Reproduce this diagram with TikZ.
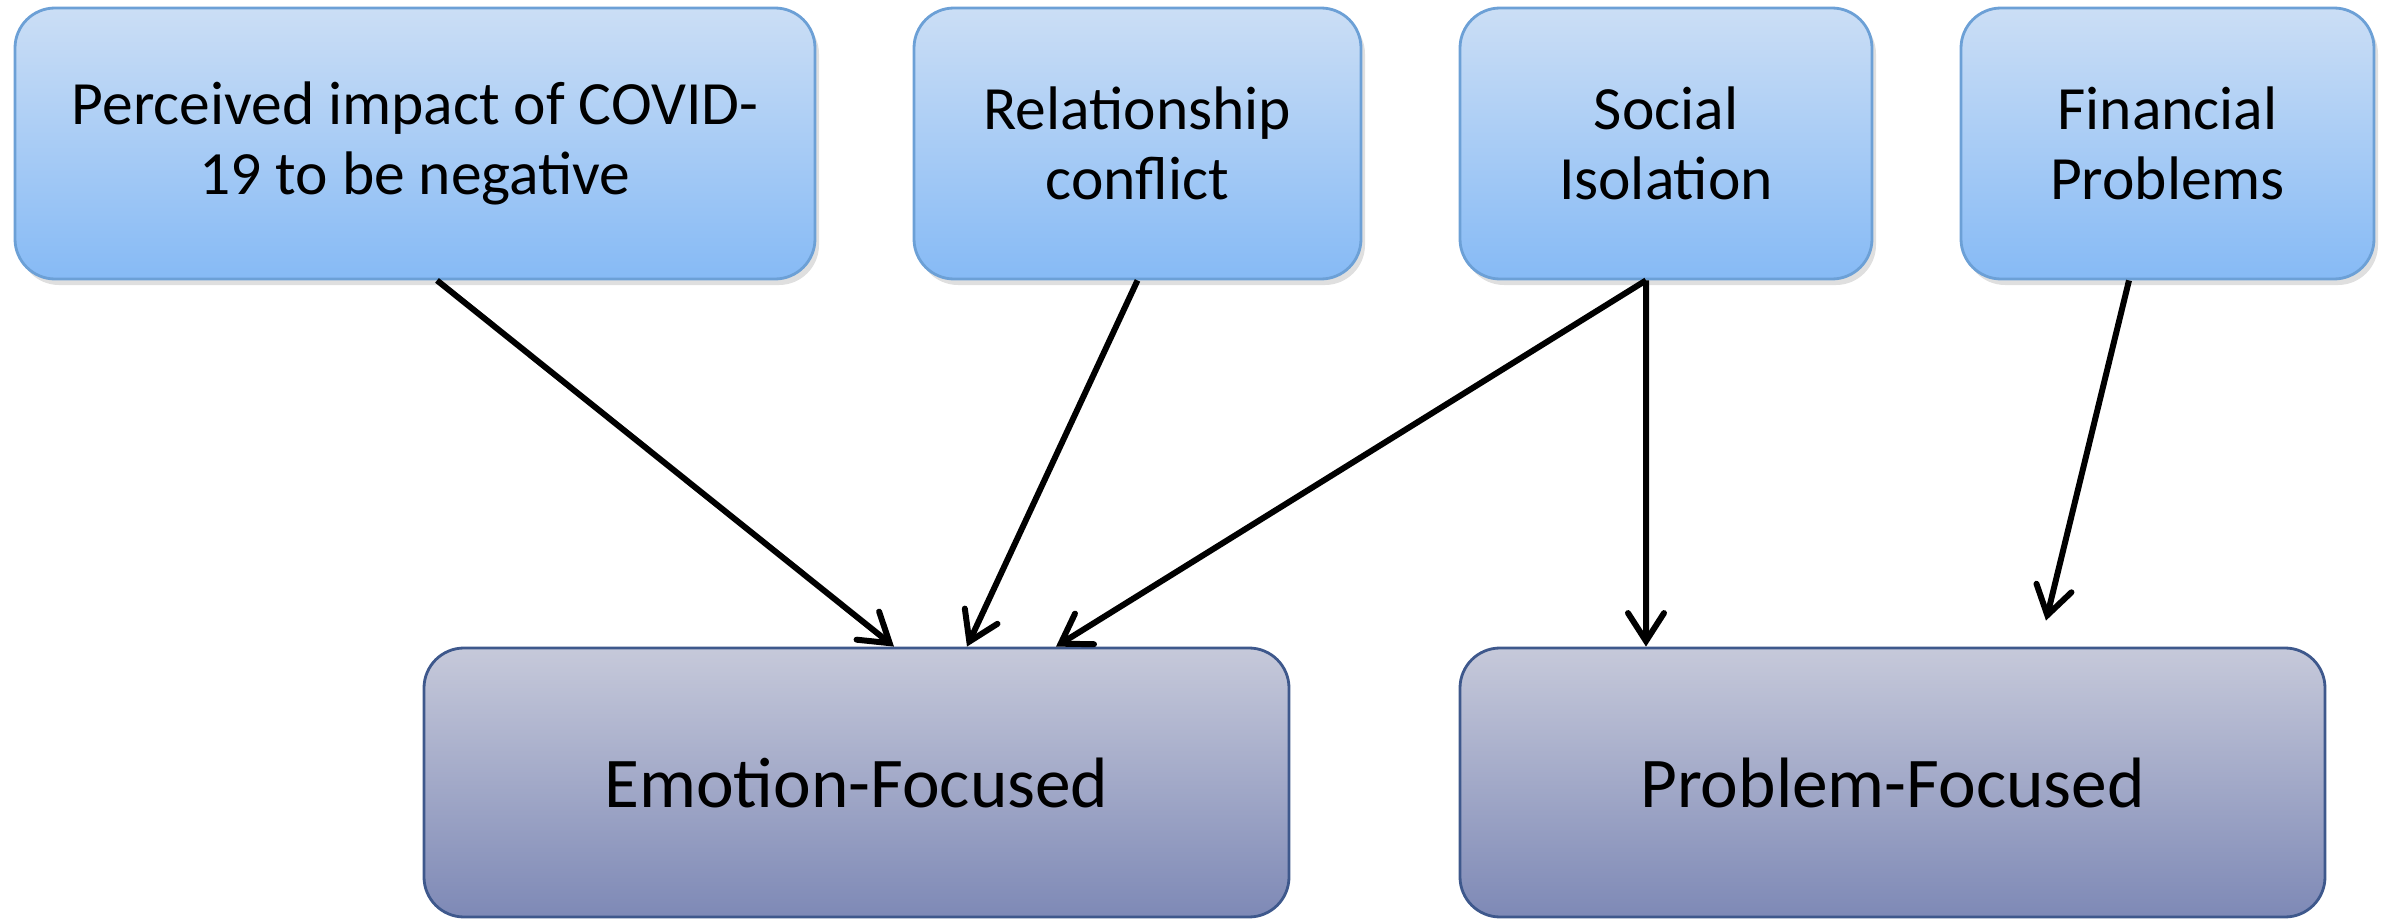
\documentclass[tikz,border=0pt]{standalone}
\usepackage{fontspec}
\setmainfont{Carlito}
\usepackage{tikz}
\usetikzlibrary{arrows.meta,positioning,shadows}
\definecolor{stresstop}{RGB}{203,222,245}
\definecolor{stressbot}{RGB}{134,186,245}
\definecolor{stressline}{RGB}{108,160,214}
\definecolor{copetop}{RGB}{198,201,218}
\definecolor{copebot}{RGB}{126,137,182}
\definecolor{copeline}{RGB}{62,88,140}

\begin{document}
\begin{tikzpicture}[
  stressor/.style={draw=stressline, line width=0.8pt, rounded corners=0.4cm, top color=stresstop, bottom color=stressbot,
    drop shadow={opacity=0.25, shadow xshift=0.04cm, shadow yshift=-0.06cm},
    align=center, font=\fontsize{17.5}{20}\selectfont, minimum height=2.71cm},
  coping/.style={draw=copeline, line width=0.8pt, rounded corners=0.4cm, top color=copetop, bottom color=copebot,
    align=center, font=\fontsize{20.3}{24}\selectfont, minimum width=8.65cm, minimum height=2.69cm},
  arr/.style={-{Straight Barb[length=2.8mm, width=3.6mm, line cap=round]}, line width=1.7pt}]
  \useasboundingbox (0,0) rectangle (23.89,9.20);
  \node[stressor, minimum width=8.0cm] (covid) at (4.15,7.765) {Perceived impact of COVID-\\19 to be negative};
  \node[stressor, minimum width=4.47cm] (conflict) at (11.375,7.765) {Relationship\\conflict};
  \node[stressor, minimum width=4.12cm] (isolation) at (16.66,7.765) {Social\\Isolation};
  \node[stressor, minimum width=4.13cm] (finance) at (21.675,7.765) {Financial\\Problems};
  \node[coping] (emotion) at (8.565,1.375) {Emotion-Focused};
  \node[coping] (problem) at (18.925,1.375) {Problem-Focused};
  \draw[arr] ([xshift=2.2mm]covid.south) -- ([xshift=3.75mm]emotion.north);
  \draw[arr] (conflict.south) -- ([xshift=11.05mm]emotion.north);
  \draw[arr] ([xshift=-2mm]isolation.south) -- ([xshift=19.95mm]emotion.north);
  \draw[arr] ([xshift=-2mm]isolation.south) -- ([xshift=-24.65mm]problem.north);
  \draw[arr] ([xshift=-3.85mm]finance.south) -- ([xshift=15.35mm, yshift=2.6mm]problem.north);
\end{tikzpicture}
\end{document}
